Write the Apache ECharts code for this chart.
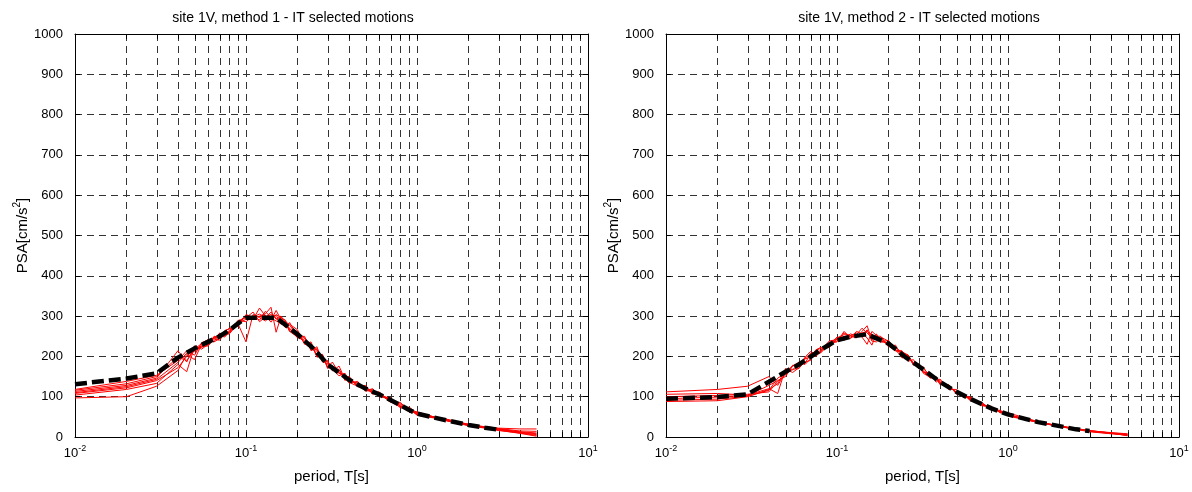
<!DOCTYPE html>
<html>
<head>
<meta charset="utf-8">
<script src="https://cdn.jsdelivr.net/npm/echarts@6/dist/echarts.min.js"></script>
<style>
  html, body { margin: 0; padding: 0; background: #fff; }
  #chart { width: 1192px; height: 492px; }
</style>
</head>
<body>
<div id="chart"></div>
<script>
// Panel titles and axis names
const panelTitles = [
  'site 1V, method 1 - IT selected motions',
  'site 1V, method 2 - IT selected motions'
];
const xAxisName = 'period, T[s]';

// Target spectrum (thick dashed black), PSA in cm/s^2
const targetPeriods1 = [0.01, 0.02, 0.03, 0.04, 0.05, 0.06, 0.07, 0.08, 0.09, 0.1, 0.15, 0.2, 0.25, 0.3, 0.4, 0.5, 0.6, 0.7, 0.8, 0.9, 1.0, 1.5, 2.0, 2.5, 3.0];
const target1 = [131, 145, 158, 197, 220, 236, 250, 265, 282, 296, 296, 255, 218, 180, 142, 120, 106, 92, 79, 67, 58, 41, 30, 23, 18];

const targetPeriods2 = [0.01, 0.02, 0.03, 0.04, 0.05, 0.06, 0.07, 0.08, 0.09, 0.1, 0.12, 0.15, 0.2, 0.25, 0.3, 0.4, 0.5, 0.6, 0.7, 0.8, 0.9, 1.0, 1.5, 2.0, 2.5, 3.0];
const target2 = [95, 99, 106, 137, 162, 180, 199, 216, 229, 240, 249, 255, 232, 199, 176, 137, 112, 95, 82, 71, 63, 56, 37, 27, 19, 15];

// Periods at which the selected records' spectra are sampled
const recordPeriods = [0.01, 0.02, 0.03, 0.04, 0.045, 0.05, 0.055, 0.06, 0.065, 0.07, 0.075, 0.08, 0.09, 0.1, 0.11, 0.12, 0.13, 0.14, 0.15, 0.16, 0.17, 0.18, 0.2, 0.22, 0.24, 0.26, 0.28, 0.3, 0.32, 0.35, 0.38, 0.4, 0.45, 0.5, 0.55, 0.6, 0.7, 0.8, 0.9, 1.0, 1.5, 2.0, 3.0, 4.0, 5.0];

// Method 1 - selected records
const m1r1 = [118, 138, 153, 190, 214, 203, 234, 240, 236, 258, 250, 262, 278, 302, 298, 305, 296, 310, 292, 300, 285, 280, 266, 230, 236, 200, 205, 172, 186, 158, 154, 134, 138, 114, 120, 102, 96, 76, 70, 55, 43, 31, 19, 12, 8];
const m1r2 = [113, 128, 146, 214, 186, 226, 218, 230, 248, 244, 262, 258, 290, 286, 300, 290, 312, 295, 288, 282, 288, 262, 248, 250, 214, 224, 186, 190, 164, 176, 142, 150, 124, 128, 106, 110, 90, 84, 62, 62, 40, 29, 21, 15, 14];
const m1r3 = [108, 122, 140, 172, 200, 218, 232, 242, 236, 244, 264, 268, 280, 236, 304, 296, 288, 300, 302, 284, 272, 284, 250, 236, 232, 198, 204, 170, 176, 166, 140, 150, 128, 124, 108, 112, 88, 74, 72, 54, 42, 32, 16, 10, 4];
const m1r4 = [104, 118, 133, 180, 162, 224, 222, 234, 246, 252, 248, 260, 286, 300, 292, 320, 300, 285, 304, 296, 290, 266, 262, 232, 220, 218, 188, 188, 168, 152, 158, 138, 134, 114, 118, 100, 98, 72, 74, 60, 41, 30, 22, 20, 20];
const m1r5 = [97, 100, 126, 165, 205, 192, 230, 228, 250, 248, 262, 270, 276, 304, 296, 300, 306, 322, 260, 298, 278, 270, 246, 246, 222, 206, 198, 184, 168, 168, 144, 136, 126, 122, 110, 108, 86, 86, 64, 62, 40, 28, 17, 9, 2];
const m1r6 = [116, 132, 150, 198, 190, 216, 226, 240, 244, 240, 256, 264, 288, 296, 310, 286, 298, 304, 296, 280, 282, 262, 260, 246, 220, 218, 188, 182, 174, 158, 150, 146, 127, 122, 114, 106, 91, 78, 68, 58, 44, 31, 20, 13, 10];
const m1r7 = [110, 125, 143, 185, 208, 212, 224, 226, 242, 256, 254, 256, 282, 292, 300, 298, 302, 290, 314, 292, 278, 278, 249, 240, 230, 212, 194, 178, 176, 160, 148, 139, 133, 116, 112, 103, 92, 81, 67, 57, 41, 29, 18, 11, 6];

// Method 2 - selected records
const m2r1 = [112, 118, 126, 150, 128, 160, 176, 182, 196, 205, 200, 210, 235, 238, 258, 250, 246, 262, 276, 240, 250, 250, 226, 214, 214, 188, 192, 170, 174, 146, 150, 130, 130, 106, 108, 90, 86, 66, 66, 52, 36, 26, 14, 9, 6];
const m2r2 = [106, 108, 104, 120, 108, 170, 160, 172, 186, 190, 216, 222, 226, 248, 240, 252, 258, 248, 230, 262, 252, 236, 240, 216, 198, 204, 180, 182, 160, 160, 136, 144, 118, 118, 98, 100, 78, 76, 60, 60, 38, 27, 16, 10, 3];
const m2r3 = [95, 99, 103, 128, 140, 150, 176, 186, 182, 208, 204, 212, 232, 236, 262, 246, 254, 270, 258, 246, 244, 248, 238, 214, 210, 204, 180, 178, 162, 148, 148, 136, 126, 110, 104, 97, 81, 74, 61, 54, 37, 26, 13, 8, 5];
const m2r4 = [91, 94, 101, 116, 146, 158, 168, 170, 194, 198, 214, 220, 222, 244, 246, 256, 250, 252, 266, 238, 236, 246, 224, 228, 196, 202, 178, 180, 158, 148, 148, 132, 128, 108, 106, 92, 86, 68, 66, 54, 36, 28, 15, 11, 8];
const m2r5 = [88, 90, 100, 118, 132, 168, 166, 184, 180, 194, 210, 214, 238, 242, 250, 244, 262, 256, 246, 228, 256, 236, 234, 216, 212, 202, 182, 170, 170, 152, 144, 132, 125, 111, 104, 96, 79, 72, 62, 55, 38, 27, 14, 9, 4];
const m2r6 = [100, 103, 106, 112, 138, 154, 178, 176, 198, 212, 206, 208, 230, 246, 254, 252, 248, 258, 262, 254, 248, 244, 230, 224, 208, 198, 184, 178, 164, 150, 146, 140, 124, 112, 102, 95, 83, 71, 64, 56, 37, 26, 16, 10, 7];

const panels = [
  { title: panelTitles[0], records: [m1r1, m1r2, m1r3, m1r4, m1r5, m1r6, m1r7], tPeriods: targetPeriods1, target: target1 },
  { title: panelTitles[1], records: [m2r1, m2r2, m2r3, m2r4, m2r5, m2r6], tPeriods: targetPeriods2, target: target2 }
];

// Log-grid helper lines at 2..9 x each decade
const decades = [0.01, 0.1, 1];
const minorSteps = [2, 3, 4, 5, 6, 7, 8, 9];
const minorGrid = decades.flatMap(d => minorSteps.map(m => [+(d * m).toPrecision(3), 0]));

const FONT = 'Liberation Sans, Arial, Helvetica, sans-serif';
const Y_MIN = 0, Y_MAX = 1000;
const gridDash = [7, 5];
const gridColor = '#333';

const gridBoxes = [
  { left: 75, width: 513, top: 34, height: 403, titleX: 288 },
  { left: 666, width: 513, top: 34, height: 403, titleX: 914 }
];

const pair = (xs, ys) => xs.map((x, i) => [x, ys[i]]);

const option = {
  animation: false,
  backgroundColor: '#fff',
  title: panels.map((p, i) => ({
    text: p.title,
    left: gridBoxes[i].titleX,
    top: 6,
    textAlign: 'center',
    textStyle: { fontFamily: FONT, fontSize: 14, fontWeight: 'normal', color: '#000' }
  })),
  grid: gridBoxes.map(g => ({ left: g.left, top: g.top, width: g.width, height: g.height, containLabel: false })),
  xAxis: [],
  yAxis: [],
  series: []
};

panels.forEach((p, i) => {
  const xb = option.xAxis.length;
  option.xAxis.push({
    gridIndex: i, type: 'log', logBase: 10, min: 0.01, max: 10, position: 'bottom',
    axisLine: { show: true, onZero: false, lineStyle: { color: '#000', width: 1 } },
    axisTick: { show: true, inside: true, length: 5, lineStyle: { color: '#000' } },
    axisLabel: {
      show: true, margin: 7, color: '#000',
      formatter: v => '{b|10}{s|' + Math.round(Math.log10(v)) + '}',
      rich: {
        b: { fontFamily: FONT, fontSize: 13, color: '#000' },
        s: { fontFamily: FONT, fontSize: 9, color: '#000', padding: [0, 0, 10, 0] }
      }
    },
    splitLine: { show: true, lineStyle: { color: gridColor, width: 1, type: gridDash } },
    name: xAxisName, nameLocation: 'middle', nameGap: 32,
    nameTextStyle: { fontFamily: FONT, fontSize: 15, color: '#000' }
  });
  option.xAxis.push({
    gridIndex: i, type: 'log', logBase: 10, min: 0.01, max: 10, position: 'top',
    axisLine: { show: true, onZero: false, lineStyle: { color: '#000', width: 1 } },
    axisTick: { show: true, inside: true, length: 5, lineStyle: { color: '#000' } },
    axisLabel: { show: false }, splitLine: { show: false }
  });
  const yl = option.yAxis.length;
  option.yAxis.push({
    gridIndex: i, type: 'value', min: Y_MIN, max: Y_MAX, interval: 100, position: 'left',
    axisLine: { show: true, onZero: false, lineStyle: { color: '#000', width: 1 } },
    axisTick: { show: true, inside: true, length: 5, lineStyle: { color: '#000' } },
    axisLabel: { show: true, margin: 12, color: '#000', fontFamily: FONT, fontSize: 13, formatter: v => String(v) },
    splitLine: { show: true, lineStyle: { color: gridColor, width: 1, type: gridDash } },
    name: '{a|PSA[cm/s}{s|2}{a|]}', nameLocation: 'middle', nameGap: 41, nameRotate: 90,
    nameTextStyle: {
      color: '#000',
      rich: {
        a: { fontFamily: FONT, fontSize: 15, color: '#000' },
        s: { fontFamily: FONT, fontSize: 10, color: '#000', padding: [0, 0, 10, 0] }
      }
    }
  });
  option.yAxis.push({
    gridIndex: i, type: 'value', min: Y_MIN, max: Y_MAX, interval: 100, position: 'right',
    axisLine: { show: true, onZero: false, lineStyle: { color: '#000', width: 1 } },
    axisTick: { show: true, inside: true, length: 5, lineStyle: { color: '#000' } },
    axisLabel: { show: false }, splitLine: { show: false }
  });

  // dashed minor grid lines with inner ticks on the top and bottom frame
  option.series.push({
    type: 'custom', xAxisIndex: xb, yAxisIndex: yl, silent: true, z: 1,
    data: minorGrid,
    encode: { x: 0, y: 1 },
    renderItem: (params, api) => {
      const x = api.value(0);
      const b = api.coord([x, Y_MIN]);
      const t = api.coord([x, Y_MAX]);
      const px = Math.round(b[0]) + 0.5;
      return {
        type: 'group',
        children: [
          { type: 'line', shape: { x1: px, y1: b[1], x2: px, y2: t[1] }, style: { stroke: gridColor, lineWidth: 1, lineDash: gridDash } },
          { type: 'line', shape: { x1: px, y1: b[1], x2: px, y2: b[1] - 5 }, style: { stroke: '#000', lineWidth: 1 } },
          { type: 'line', shape: { x1: px, y1: t[1], x2: px, y2: t[1] + 5 }, style: { stroke: '#000', lineWidth: 1 } }
        ]
      };
    }
  });

  // selected records, thin red
  p.records.forEach(rec => {
    option.series.push({
      type: 'line', xAxisIndex: xb, yAxisIndex: yl, z: 3,
      data: pair(recordPeriods, rec),
      symbol: 'none', silent: true,
      lineStyle: { color: '#ff0000', width: 1 }
    });
  });

  // target spectrum on top
  option.series.push({
    type: 'line', xAxisIndex: xb, yAxisIndex: yl, z: 4,
    data: pair(p.tPeriods, p.target),
    symbol: 'none', silent: true,
    lineStyle: { color: '#000', width: 4.5, type: [12, 5], cap: 'butt' }
  });
});

const chart = echarts.init(document.getElementById('chart'), null, { renderer: 'canvas' });
chart.setOption(option);
</script>
</body>
</html>
